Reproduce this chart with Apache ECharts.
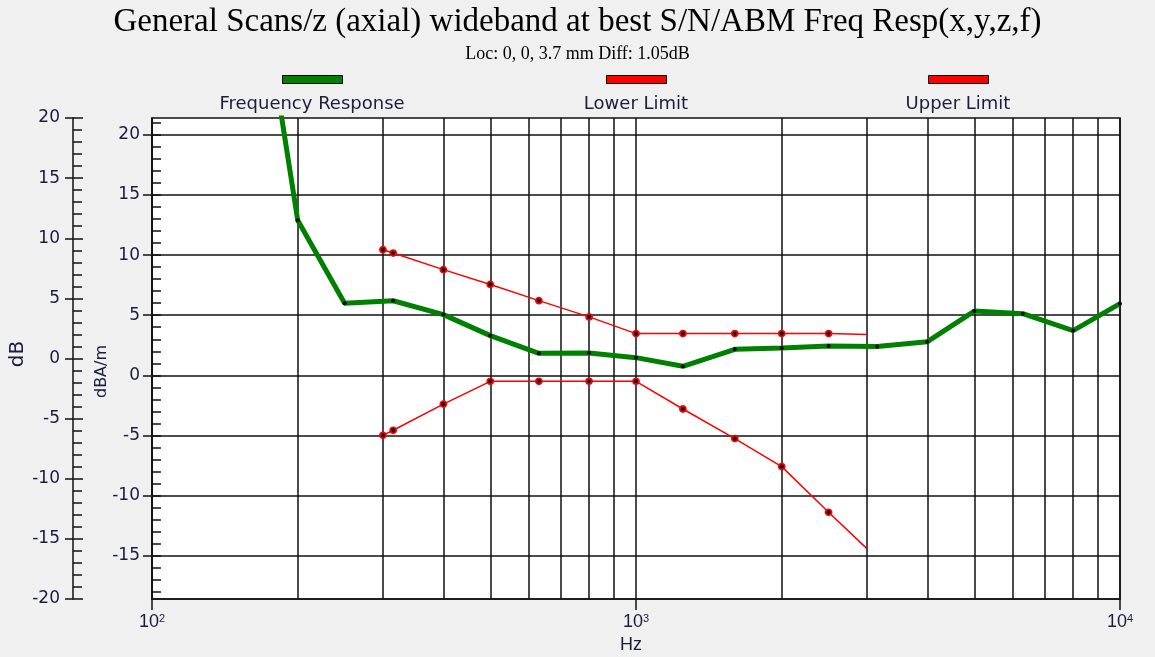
<!DOCTYPE html>
<html>
<head>
<meta charset="utf-8">
<script src="https://cdn.jsdelivr.net/npm/echarts@6/dist/echarts.min.js"></script>
<style>
html,body{margin:0;padding:0;background:#f0f0f0;}
#c{width:1155px;height:657px;}
</style>
</head>
<body>
<div id="c"></div>
<script>
// ---------- data ----------
const freqRespHz = [180, 200, 250, 315, 400, 500, 630, 800, 1000, 1250, 1600, 2000, 2500, 3150, 4000, 5000, 6300, 8000, 10000];
const freqRespDb = [24.7, 12.9, 6.0, 6.2, 5.05, 3.3, 1.83, 1.85, 1.47, 0.75, 2.16, 2.27, 2.44, 2.39, 2.8, 5.34, 5.13, 3.72, 5.96];
const limitHz = [300, 315, 400, 500, 630, 800, 1000, 1250, 1600, 2000, 2500, 3000];
const upperLimitDb = [10.45, 10.17, 8.79, 7.56, 6.21, 4.86, 3.47, 3.47, 3.47, 3.47, 3.47, 3.4];
const lowerLimitDb = [-4.99, -4.57, -2.39, -0.5, -0.5, -0.5, -0.5, -2.8, -5.26, -7.59, -11.39, -14.41];
const gridFreqs = [200, 300, 400, 500, 600, 700, 800, 900, 2000, 3000, 4000, 5000, 6000, 7000, 8000, 9000];
const innerTickLabels = [-15, -10, -5, 0, 5, 10, 15, 20];
const innerRange = [-18.6, 21.4];
const outerRange = [-20, 20];
const seriesNames = ['Frequency Response', 'Lower Limit', 'Upper Limit'];
const titleText = 'General Scans/z (axial) wideband at best S/N/ABM Freq Resp(x,y,z,f)';
const subTitleText = 'Loc: 0, 0, 3.7 mm Diff: 1.05dB';

// ---------- helpers ----------
const innerMinorTicks = [];
for (let v = Math.ceil(innerRange[0]); v <= Math.floor(innerRange[1]); v++) innerMinorTicks.push(v);

const lineCol = '#111';
const textCol = '#1c1c3c';
const narrowFont = '"Liberation Sans Narrow", "Arial Narrow", "Liberation Sans", sans-serif';
const axisLine = { show: true, onZero: false, lineStyle: { color: lineCol, width: 1.5 } };
const legendFontSize = 18;
const legendFont = legendFontSize + 'px "DejaVu Sans"';
const ctx = document.createElement('canvas').getContext('2d');
function textWidth(t, font) { ctx.font = font; return ctx.measureText(t).width; }

const legendCenters = [312, 636, 958];
const legendColors = ['#008000', '#ff0000', '#ff0000'];
const legends = [];
seriesNames.forEach((n, i) => {
  legends.push({
    data: [{ name: n, icon: 'rect', itemStyle: { color: legendColors[i], borderColor: '#000', borderWidth: 1 } }],
    left: legendCenters[i] - 30, top: 75, itemWidth: 60, itemHeight: 8, padding: 0,
    selectedMode: false, formatter: () => '', textStyle: { fontSize: 1 }
  });
  const w = textWidth(n, legendFont);
  legends.push({
    data: [{ name: n, icon: 'none' }],
    left: legendCenters[i] - w / 2 - 6, top: 95, itemWidth: 1, itemHeight: 14, padding: 0,
    selectedMode: false,
    textStyle: { fontFamily: 'DejaVu Sans', fontSize: legendFontSize, color: textCol }
  });
});

const frData = freqRespHz.map((f, i) => [f, freqRespDb[i]]);
const lastIdx = limitHz.length - 1;
const upData = limitHz.map((f, i) => i === lastIdx ? { value: [f, upperLimitDb[i]], symbol: 'none' } : [f, upperLimitDb[i]]);
const loData = limitHz.map((f, i) => i === lastIdx ? { value: [f, lowerLimitDb[i]], symbol: 'none' } : [f, lowerLimitDb[i]]);

const limitStyle = {
  type: 'line', xAxisIndex: 0, yAxisIndex: 0, symbol: 'circle', symbolSize: 6, z: 2,
  lineStyle: { color: '#ff0000', width: 1.5 },
  itemStyle: { color: '#000', borderColor: '#ff0000', borderWidth: 1.8 },
  emphasis: { disabled: true }, clip: true
};

const option = {
  backgroundColor: '#f0f0f0',
  animation: false,
  title: [
    { text: titleText, left: 'center', top: 6, padding: 0,
      textStyle: { fontFamily: '"Liberation Serif", serif', fontSize: 33, fontWeight: 'normal', color: '#000' } },
    { text: subTitleText, left: 'center', top: 45, padding: 0,
      textStyle: { fontFamily: '"Liberation Serif", serif', fontSize: 18, fontWeight: 'normal', color: '#000' } }
  ],
  legend: legends,
  grid: { left: 152, right: 35, top: 118, bottom: 58, show: true, backgroundColor: '#fff',
          borderColor: lineCol, borderWidth: 1.5, containLabel: false, outerBoundsMode: 'none' },
  xAxis: {
    type: 'log', logBase: 10, min: 100, max: 10000,
    axisLine: axisLine,
    axisTick: { show: true, length: 11, lineStyle: { color: lineCol, width: 1.5 } },
    minorTick: { show: false },
    splitLine: { show: true, lineStyle: { color: lineCol, width: 1.5 } },
    axisLabel: {
      margin: 14, color: textCol, fontFamily: narrowFont, fontSize: 18,
      formatter: v => '{b|10}{sup|' + Math.round(Math.log10(v)) + '}',
      rich: {
        b: { fontSize: 18, color: textCol, fontFamily: narrowFont },
        sup: { fontSize: 11, verticalAlign: 'top', color: textCol, fontFamily: narrowFont }
      }
    },
    name: 'Hz', nameLocation: 'middle', nameGap: 37, nameMoveOverlap: false,
    nameTextStyle: { color: textCol, fontFamily: narrowFont, fontSize: 18, padding: [0, 10, 0, 0] }
  },
  yAxis: [
    { // inner dBA/m axis (data axis)
      type: 'value', gridIndex: 0, position: 'left', min: innerRange[0], max: innerRange[1], splitNumber: 8,
      axisLine: axisLine,
      axisTick: { show: true, inside: false, length: 9, customValues: innerTickLabels, lineStyle: { color: lineCol, width: 1.5 } },
      axisLabel: { customValues: innerTickLabels, margin: 12, color: textCol, fontFamily: 'DejaVu Sans', fontSize: 17 },
      splitLine: { show: true, lineStyle: { color: lineCol, width: 1.5 } },
      name: 'dBA/m', nameLocation: 'middle', nameRotate: 90, nameGap: 42, nameMoveOverlap: false,
      nameTextStyle: { color: textCol, fontFamily: 'DejaVu Sans', fontSize: 16, padding: [0, 26, 0, 0] }
    },
    { // inner minor ticks
      type: 'value', gridIndex: 0, position: 'left', min: innerRange[0], max: innerRange[1],
      axisLine: { show: false, onZero: false },
      axisTick: { show: true, inside: true, length: 9, customValues: innerMinorTicks, lineStyle: { color: lineCol, width: 1.5 } },
      axisLabel: { show: false }, splitLine: { show: false }
    },
    { // outer dB axis
      type: 'value', gridIndex: 0, position: 'left', offset: 79, min: outerRange[0], max: outerRange[1], interval: 5,
      axisLine: axisLine,
      axisTick: { show: true, inside: true, length: 10, lineStyle: { color: lineCol, width: 1.5 } },
      minorTick: { show: true, splitNumber: 5, length: 9, lineStyle: { color: lineCol, width: 1.5 } },
      axisLabel: { margin: 13, color: textCol, fontFamily: 'DejaVu Sans', fontSize: 17 },
      splitLine: { show: false },
      name: 'dB', nameLocation: 'middle', nameRotate: 90, nameGap: 45, nameMoveOverlap: false,
      nameTextStyle: { color: textCol, fontFamily: 'DejaVu Sans', fontSize: 20, padding: [0, 0, 0, 9] }
    },
    { // outer dB axis, outward stubs
      type: 'value', gridIndex: 0, position: 'left', offset: 79, min: outerRange[0], max: outerRange[1], interval: 5,
      axisLine: { show: false, onZero: false },
      axisTick: { show: true, inside: false, length: 8, lineStyle: { color: lineCol, width: 1.5 } },
      axisLabel: { show: false }, splitLine: { show: false }
    }
  ],
  series: [
    Object.assign({}, limitStyle, {
      name: seriesNames[1], data: loData,
      markLine: {
        silent: true, symbol: ['none', 'none'], z: 1, animation: false,
        label: { show: false }, emphasis: { disabled: true },
        lineStyle: { color: lineCol, width: 1.5, type: 'solid' },
        data: gridFreqs.map(f => ({ xAxis: f }))
      }
    }),
    Object.assign({}, limitStyle, { name: seriesNames[2], data: upData }),
    {
      name: seriesNames[0], type: 'line', xAxisIndex: 0, yAxisIndex: 0, data: frData, z: 3,
      symbol: 'circle', symbolSize: 4,
      lineStyle: { color: '#008000', width: 5 },
      itemStyle: { color: '#000' },
      emphasis: { disabled: true }, clip: true
    }
  ]
};

const chart = echarts.init(document.getElementById('c'), null, { renderer: 'canvas' });
chart.setOption(option);
</script>
</body>
</html>
